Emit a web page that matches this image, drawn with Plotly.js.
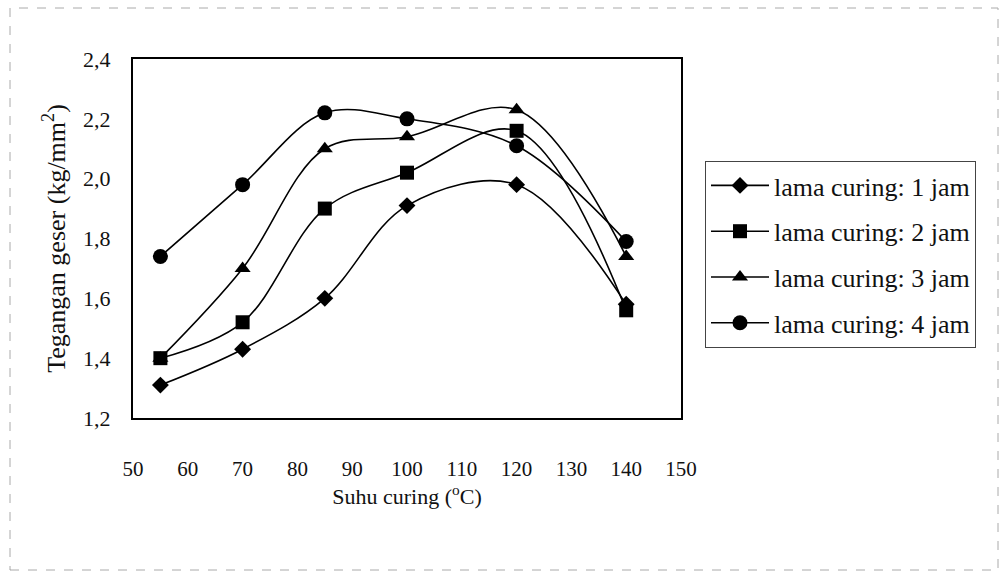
<!DOCTYPE html>
<html>
<head>
<meta charset="utf-8">
<script src="https://cdn.plot.ly/plotly-3.0.1.min.js"></script>
<style>html,body{margin:0;padding:0;background:#fff;}#chart{width:1004px;height:578px;}</style>
</head>
<body>
<div id="chart"></div>
<script>
const suhu = [55, 70, 85, 100, 120, 140];
const jam1 = [1.31, 1.43, 1.60, 1.91, 1.98, 1.58];
const jam2 = [1.40, 1.52, 1.90, 2.02, 2.16, 1.56];
const jam3 = [1.40, 1.70, 2.10, 2.14, 2.23, 1.74];
const jam4 = [1.74, 1.98, 2.22, 2.20, 2.11, 1.79];
const names = ['lama curing: 1 jam', 'lama curing: 2 jam', 'lama curing: 3 jam', 'lama curing: 4 jam'];
const yTicks = [1.2, 1.4, 1.6, 1.8, 2.0, 2.2, 2.4];
const xTicks = [50, 60, 70, 80, 90, 100, 110, 120, 130, 140, 150];

const series = [jam1, jam2, jam3, jam4];
const symbols = ['diamond', 'square', 'triangle-up', 'circle'];
const sizes = [13, 14, 14, 15];
const font = 'Liberation Serif, Times New Roman, serif';

const traces = series.map((ys, i) => ({
  x: suhu, y: ys, name: names[i], type: 'scatter', mode: 'lines+markers',
  legendgroup: 'g' + i,
  line: {color: '#000', width: 1.6, shape: 'spline', smoothing: 1},
  marker: {symbol: symbols[i], size: sizes[i], color: '#000'}
}));

const layout = {
  width: 1004, height: 578,
  paper_bgcolor: '#fff', plot_bgcolor: '#fff',
  separators: ',.',
  margin: {l: 133, r: 323, t: 59, b: 160},
  font: {family: font, size: 21, color: '#111'},
  showlegend: true,
  legend: {
    xref: 'container', yref: 'container', x: 705/1004, y: 1 - 161/578,
    xanchor: 'left', yanchor: 'top',
    bordercolor: '#444', borderwidth: 1, bgcolor: '#fff',
    font: {family: font, size: 26, color: '#111'},
    traceorder: 'grouped', tracegroupgap: 9, itemwidth: 58
  },
  xaxis: {
    range: [50, 150], tickvals: xTicks, ticktext: xTicks.map(String),
    showgrid: false, zeroline: false, showline: true, mirror: true,
    linecolor: '#000', linewidth: 2, ticks: '', ticklabelstandoff: 31,
    tickfont: {family: font, size: 21, color: '#111'},
    title: {text: 'Suhu curing (<sup>o</sup>C)', font: {family: font, size: 22, color: '#111'}, standoff: 0}
  },
  yaxis: {
    range: [1.2, 2.4], tickvals: yTicks, tickformat: '.1f',
    showgrid: false, zeroline: false, showline: true, mirror: true,
    linecolor: '#000', linewidth: 2, ticks: '', ticklabelstandoff: 16,
    tickfont: {family: font, size: 22, color: '#111'},
    title: {text: 'Tegangan geser (kg/mm<sup>2</sup>)', font: {family: font, size: 26, color: '#111'}, standoff: 10}
  },
  shapes: [{
    type: 'rect', xref: 'paper', yref: 'paper',
    x0: -123/548, x1: 1 + (988 - 681)/548 + 10/548, y0: -152/359, y1: 1 + 51/359,
    line: {color: '#aaa', width: 1, dash: 'dash'}
  }]
};

Plotly.newPlot('chart', traces, layout, {displayModeBar: false, staticPlot: true});
</script>
</body>
</html>
